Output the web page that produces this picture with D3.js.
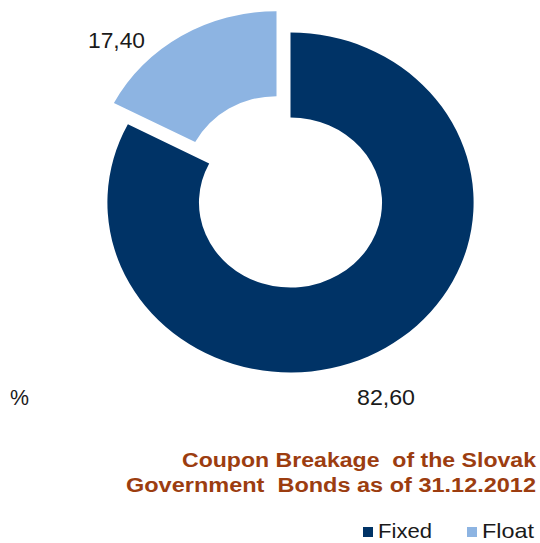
<!DOCTYPE html>
<html>
<head>
<meta charset="utf-8">
<script src="https://cdn.jsdelivr.net/npm/d3@7"></script>
<style>
  body { margin: 0; background: #fff; }
  text { font-family: "Liberation Sans", Arial, sans-serif; white-space: pre; }
</style>
</head>
<body>
<script>
const categories = ["Fixed", "Float"];
const values = [82.60, 17.40];
const valueLabels = ["82,60", "17,40"];
const titleLines = ["Coupon Breakage  of the Slovak", "Government  Bonds as of 31.12.2012"];

const width = 540, height = 543;
const colors = d3.scaleOrdinal().domain(categories).range(["#003366", "#8db4e2"]);

const cx = 290.5, cy = 202.5;
const outer = 170, inner = 85;
const stretch = 1.077;   // picture is a bit wider than tall
const explode = {Float: 25};

const data = categories.map((c, i) => ({name: c, value: values[i], label: valueLabels[i]}));

const pie = d3.pie().sort(null).value(d => d.value);
const arc = d3.arc().innerRadius(inner).outerRadius(outer);
const arcs = pie(data);

const svg = d3.select("body").append("svg")
    .attr("width", width)
    .attr("height", height);

const g = svg.append("g")
    .attr("transform", `translate(${cx},${cy}) scale(${stretch},1)`);

g.selectAll("path")
  .data(arcs)
  .join("path")
    .attr("fill", d => colors(d.data.name))
    .attr("transform", d => {
      const k = explode[d.data.name] || 0;
      const a = (d.startAngle + d.endAngle) / 2;
      return `translate(${k * Math.sin(a)},${-k * Math.cos(a)})`;
    })
    .attr("d", arc);

// text in the original is stretched sideways, so fix its widths
const wide = (sel, w) => sel.attr("textLength", w).attr("lengthAdjust", "spacingAndGlyphs");

// data labels, placed like the original (outside the ring)
const labelPos = {Fixed: [357, 405, 58], Float: [88, 48, 57]};
svg.selectAll("text.val")
  .data(arcs)
  .join("text")
    .attr("class", "val")
    .attr("x", d => labelPos[d.data.name][0])
    .attr("y", d => labelPos[d.data.name][1])
    .attr("font-size", 21.5)
    .attr("fill", "#1a1a1a")
    .text(d => d.data.label)
    .each(function(d) { wide(d3.select(this), labelPos[d.data.name][2]); });

svg.append("text")
    .attr("x", 10).attr("y", 405)
    .attr("font-size", 21.5)
    .attr("fill", "#1a1a1a")
    .text("%")
    .call(wide, 19);

const titleW = [354, 410];
svg.append("g")
  .selectAll("text")
  .data(titleLines)
  .join("text")
    .attr("x", (d, i) => 536 - titleW[i])
    .attr("y", (d, i) => 467 + i * 25)
    .attr("font-size", 19.5)
    .attr("font-weight", "bold")
    .attr("fill", "#9c3d10")
    .text(d => d)
    .each(function(d, i) { wide(d3.select(this), titleW[i]); });

// legend
const legendX = {Fixed: 363, Float: 467};
const legendW = {Fixed: 54, Float: 52};
const lg = svg.append("g")
  .selectAll("g")
  .data(categories)
  .join("g")
    .attr("transform", d => `translate(${legendX[d]},527)`);
lg.append("rect")
    .attr("width", 10).attr("height", 10)
    .attr("fill", d => colors(d));
lg.append("text")
    .attr("x", 15).attr("y", 11)
    .attr("font-size", 21)
    .attr("fill", "#1a1a1a")
    .text(d => d)
    .each(function(d) { wide(d3.select(this), legendW[d]); });
</script>
</body>
</html>
